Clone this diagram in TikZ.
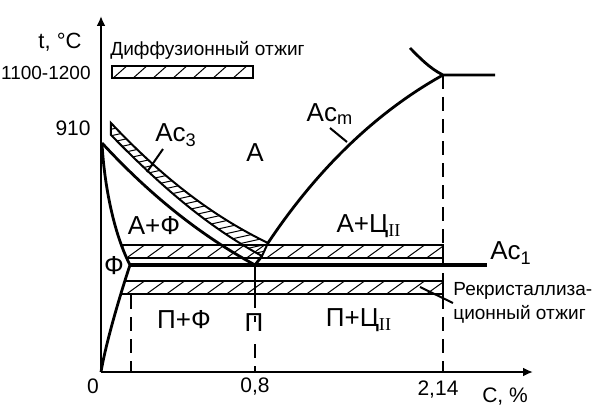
\documentclass[tikz,border=0pt]{standalone}
\usepackage{fontspec}
\setmainfont{Liberation Sans}
\newfontfamily\serif{Liberation Serif}
\usetikzlibrary{arrows.meta}

\begin{document}
\begin{tikzpicture}[x=0.5pt,y=0.5pt,
    phase/.style={inner sep=0pt,font=\fontsize{13}{15}\selectfont},
    num/.style={inner sep=0pt,font=\fontsize{10.5}{12}\selectfont},
    note/.style={inner sep=0pt,font=\fontsize{9.5}{12}\selectfont},
    curve/.style={line width=1.4pt},
    bandline/.style={line width=1pt},
    hatch/.style={line width=0.5pt},
    dashline/.style={line width=1pt,dash pattern=on 7pt off 4pt},
    axis/.style={line width=1.3pt,-{Latex[length=5pt,width=4.5pt]}}]
    \useasboundingbox (-101,-36) rectangle (499,372);

    % Axes:
    \coordinate (O) at (0,0);
    \coordinate (ytip) at (0,356);
    \coordinate (xtip) at (432,0);
    \draw[axis] (O) -- (ytip);
    \draw[axis] (O) -- (xtip);

    % points of the diagram
    \coordinate (G) at (1,229);
    \coordinate (P) at (29,107);
    \coordinate (S) at (154,107);
    \coordinate (K) at (386,107);
    \coordinate (E) at (342,297);
    \coordinate (Etop) at (309,324);
    \coordinate (Eend) at (394,297);
    \coordinate (B1) at (10,249);
    \coordinate (B2) at (167,129);
    \coordinate (B3) at (161,116);
    \coordinate (B4) at (10,237);

    % diffusion annealing bar
    \begin{scope}
        \clip (11,294) rectangle (152,306);
        \foreach \i in {-10,10,...,160}
            \draw[hatch] (\i,292) -- ++(18,16);
    \end{scope}
    \draw[bandline] (11,294) rectangle (152,306);

    % Ac3 band
    \begin{scope}
        \clip (B1) .. controls (59,197) and (109,157) .. (B2) -- (B3)
            .. controls (104,147) and (59,187) .. (B4) -- cycle;
        \foreach \c in {0,6.5,...,260}
            \draw[hatch] (0,\c) -- ++(180,40);
    \end{scope}
    \draw[bandline] (B1) .. controls (59,197) and (109,157) .. (B2) -- (B3)
        .. controls (104,147) and (59,187) .. (B4) -- cycle;

    % upper and lower bands
    \begin{scope}
        \clip (20,127) -- (342,127) -- (342,114) -- (27,114) -- cycle;
        \foreach \i in {0,20,...,360}
            \draw[hatch] (\i,110) -- ++(24,17.3);
    \end{scope}
    \draw[bandline] (20,127) -- (342,127) -- (342,114) -- (27,114);
    \begin{scope}
        \clip (25,91) -- (342,91) -- (342,78) -- (21,78) -- cycle;
        \foreach \i in {0,20,...,360}
            \draw[hatch] (\i,74) -- ++(24,17.3);
    \end{scope}
    \draw[bandline] (25,91) -- (342,91) -- (342,78) -- (21,78);

    % lines
    \draw[curve] (G) .. controls (3,190) and (12,140) .. (P)
        .. controls (20,80) and (5,30) .. (O);
    \draw[curve] (G) .. controls (49,177) and (99,137) .. (S);
    \draw[curve] (B3) -- (S);
    \draw[curve] (B2) .. controls (219,207) and (279,262) .. (E);
    \draw[curve] (Etop) .. controls (318,315) and (328,304) .. (E) -- (Eend);
    \draw[line width=1.7pt] (P) -- (K);

    % axis labels
    \node[num,font=\fontsize{11}{13}\selectfont] (tC) at (-41,330) {t, °C};
    \node[num,anchor=east,font=\fontsize{9.5}{11}\selectfont] (t1100) at (-10,299) {1100-1200};
    \node[num,anchor=east] (t910) at (-10,244) {910};
    \node[num] (x0) at (-8,-14) {0};
    \node[num] (x08) at (154,-15) {0,8};
    \node[num] (x214) at (337,-18) {2,14};
    \node[num] (xC) at (404,-25) {C, \%};

    % phases
    \node[phase] (A) at (154,219) {А};
    \node[phase] (AF) at (53,146) {А+Ф};
    \node[phase] (F) at (13,106) {Ф};
    \node[phase] (AC) at (268,146) {А+Ц\textsubscript{\serif II}};
    \node[phase] (PF) at (83,52) {П+Ф};
    \node[phase] (Pe) at (153,49) {П};
    \node[phase] (PC) at (258,52) {П+Ц\textsubscript{\serif II}};
    \node[phase] (Ac3) at (75,237) {Ac\textsubscript{3}};
    \node[phase] (Acm) at (229,258) {Ac\textsubscript{m}};
    \node[phase] (Ac1) at (410,119) {Ac\textsubscript{1}};

    % dashed lines
    \draw[bandline] (S) -- (154,78);
    \draw[dashline] (154,78) -- ([yshift=-4]Pe.north -| S);
    \draw[dashline] ([yshift=-6]Pe.south -| S) -- (154,0);
    \draw[dashline] (30,77) -- (30,0);
    \draw[dashline] (E) -- (342,0);

    % annealing notes
    \node[note,anchor=west] (diff) at (9,322) {Диффузионный отжиг};
    \node[note,anchor=west,align=left] (rekr) at (352,69) {Рекристаллиза-\\ционный отжиг};

    % leaders
    \coordinate (l3) at (46,200);
    \coordinate (lm) at (246,230);
    \coordinate (lr) at (319,85);
    \draw[bandline] (62,223) -- (l3);
    \draw[bandline] (229,244) -- (lm);
    \draw[bandline] (rekr.west) -- (lr);
\end{tikzpicture}
\end{document}
